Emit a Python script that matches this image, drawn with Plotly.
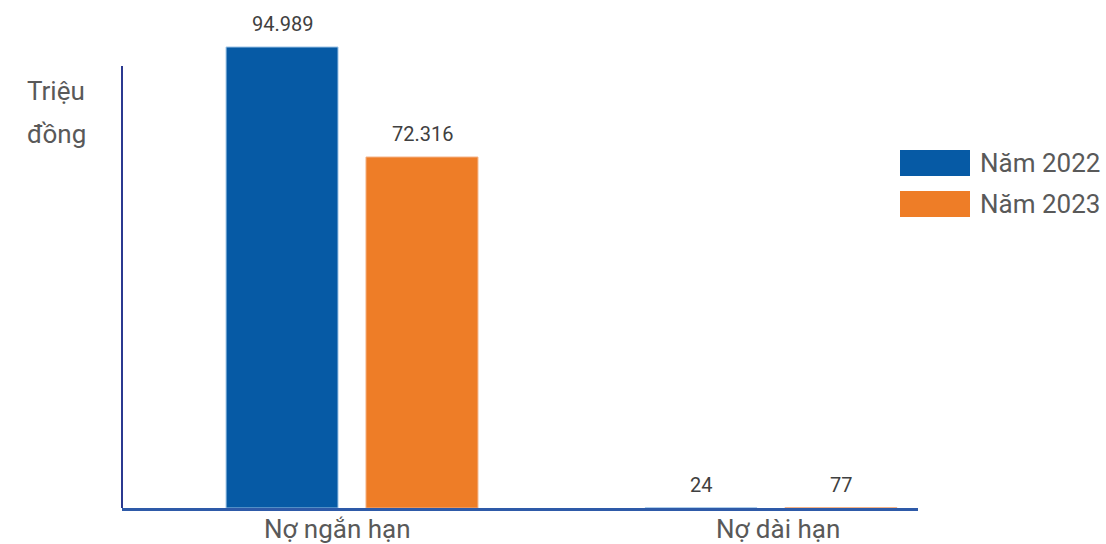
import plotly.graph_objects as go

categories = ["Nợ ngắn hạn", "Nợ dài hạn"]
series_names = ["Năm 2022", "Năm 2023"]
values_2022 = [94989, 24]
values_2023 = [72316, 77]
label_2022 = ["94.989", "24"]
label_2023 = ["72.316", "77"]

colors = ["#065AA5", "#EE7D27"]
edge_colors = ["#9DC3E6", "#F4B183"]

W, H = 1106, 544
ml, mr, mt, mb = 122, W - 918, 20, 36
plot_h = H - mt - mb
pw = W - ml - mr

fig = go.Figure()
for name, vals, c, ec in zip(series_names, [values_2022, values_2023], colors, edge_colors):
    fig.add_trace(go.Bar(
        x=categories, y=vals, name=name,
        marker=dict(color=c, line=dict(color=ec, width=1)),
        showlegend=False,
    ))

# data labels
for k, (vals, labs) in enumerate([(values_2022, label_2022), (values_2023, label_2023)]):
    for cat, v, lab in zip(categories, vals, labs):
        fig.add_annotation(x=cat, y=v, text=lab, showarrow=False,
                           xshift=-70 if k == 0 else 70, yshift=23,
                           xanchor="center", yanchor="middle",
                           font=dict(family="Roboto", size=20, color="#404040"))

# category labels (placed as in the reference)
for cat, dx in zip(categories, [-15, 7]):
    fig.add_annotation(x=cat, y=0, text=cat, showarrow=False,
                       xshift=dx, yshift=-(529 - 508),
                       xanchor="center", yanchor="middle",
                       font=dict(family="Roboto", size=26, color="#595959"))

ymax = 94989 * plot_h / (508 - 47)

fig.update_layout(
    width=W, height=H,
    margin=dict(l=ml, r=mr, t=mt, b=mb),
    paper_bgcolor="white", plot_bgcolor="white",
    barmode="group", bargap=0.332, bargroupgap=0.2,
    font=dict(family="Roboto", color="#595959"),
    xaxis=dict(range=[-0.549, 1.351], showline=True, linecolor="#2E5AA8",
               linewidth=3, showgrid=False, ticks="", automargin=False,
               showticklabels=False),
    yaxis=dict(range=[0, ymax], showline=False, showgrid=False, automargin=False,
               showticklabels=False, zeroline=False, ticks=""),
)

# y-axis line
fig.add_shape(type="line", xref="paper", yref="paper", x0=0, x1=0,
              y0=0, y1=(508 - 66) / plot_h, line=dict(color="#2B3990", width=2))

# y title
for txt, ypix in [("Triệu", 91), ("đồng", 134)]:
    fig.add_annotation(text=txt, xref="paper", yref="paper",
                       x=(56 - ml) / pw, y=(508 - ypix) / plot_h,
                       showarrow=False, xanchor="center", yanchor="middle",
                       font=dict(family="Roboto", size=26, color="#595959"))

# legend (manual, wide swatches)
for i, (name, c) in enumerate(zip(series_names, colors)):
    yc = 163 + i * 41
    fig.add_shape(type="rect", xref="paper", yref="paper",
                  x0=(900 - ml) / pw, x1=(970 - ml) / pw,
                  y0=(508 - (yc + 13)) / plot_h, y1=(508 - (yc - 13)) / plot_h,
                  fillcolor=c, line=dict(width=0))
    fig.add_annotation(text=name, xref="paper", yref="paper",
                       x=(978 - ml) / pw, y=(508 - yc) / plot_h,
                       showarrow=False, xanchor="left", yanchor="middle",
                       font=dict(family="Roboto", size=26, color="#595959"))

fig.write_html("out.html")
